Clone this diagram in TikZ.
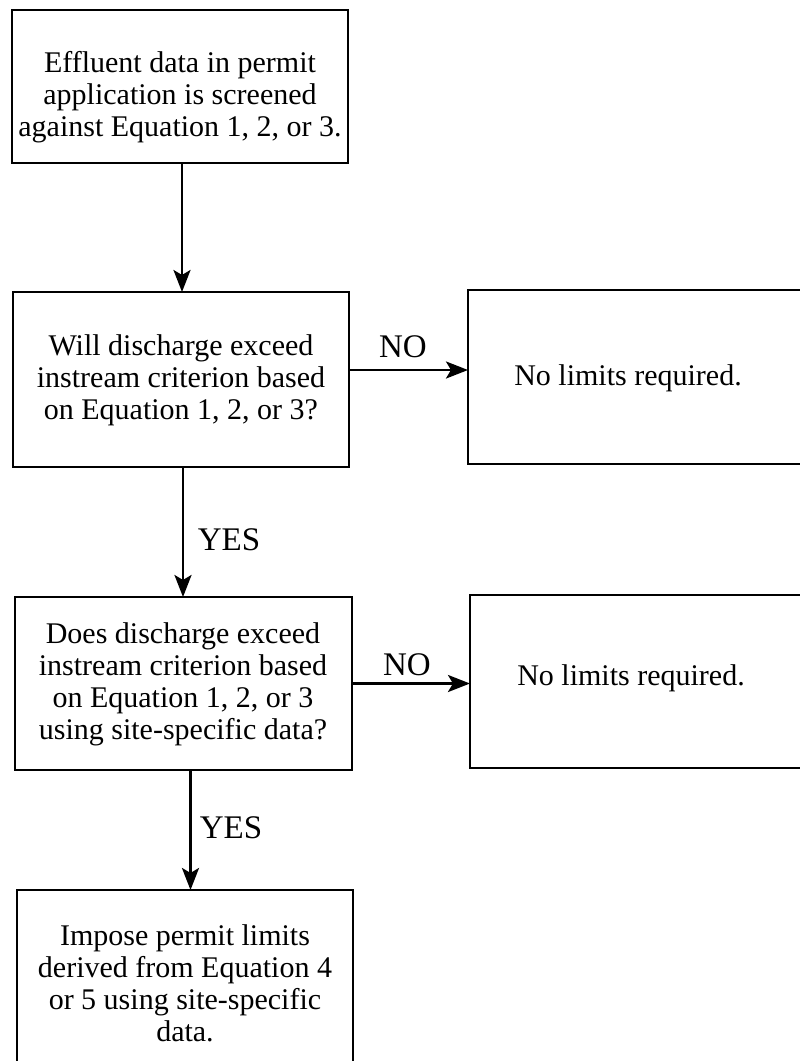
\documentclass[tikz,border=0pt]{standalone}
\usepackage{fontspec}
\setmainfont{Liberation Serif}
\usetikzlibrary{arrows.meta}

\tikzset{
  stepbox/.style={draw, line width=2.8pt, outer sep=0pt, inner sep=0pt, anchor=north west},
  boxtext/.style={align=center, inner sep=0pt, font=\fontsize{30}{32}\selectfont},
  flow/.style={line width=2.8pt, -{Stealth[length=22pt,width=17pt,inset=5pt]}},
  answer/.style={inner sep=0pt, font=\fontsize{33}{36}\selectfont}
}

\begin{document}
\begin{tikzpicture}[x=1pt,y=-1pt]
  \useasboundingbox (0,0) rectangle (800,1061);
  \clip (0,0) rectangle (800,1061);

  % boxes of the main column
  \node[stepbox, minimum width=336pt, minimum height=153pt] (b1) at (12,10) {};
  \node[stepbox, minimum width=336pt, minimum height=175pt] (b2) at (13,292) {};
  \node[stepbox, minimum width=337pt, minimum height=173pt] (b4) at (15,597) {};
  \node[stepbox, minimum width=336pt, minimum height=185pt] (b6) at (17,890) {};

  % outcome boxes on the right
  \node[stepbox, minimum width=345pt, minimum height=174pt] (r1) at (468,290) {};
  \node[stepbox, minimum width=345pt, minimum height=173pt] (r2) at (470,595) {};

  % box texts
  \node[boxtext] (t1) at (180,97) {Effluent data in permit\\application is screened\\against Equation 1, 2, or 3.};
  \node[boxtext] (t2) at (181,380) {Will discharge exceed\\instream criterion based\\on Equation 1, 2, or 3?};
  \node[boxtext] (t3) at (628,378) {No limits required.};
  \node[boxtext] (t4) at (183,684) {Does discharge exceed\\instream criterion based\\on Equation 1, 2, or 3\\using site-specific data?};
  \node[boxtext] (t5) at (631,678) {No limits required.};
  \node[boxtext] (t6) at (185,983) {Impose permit limits\\derived from Equation 4\\or 5 using site-specific\\data.};

  % connectors
  \draw[flow] ([xshift=2pt]b1.south) -- ([xshift=2pt]b1.south |- b2.north);
  \draw[flow] ([xshift=2pt]b2.south) -- ([xshift=2pt]b2.south |- b4.north);
  \draw[flow] ([xshift=7pt]b4.south) -- ([xshift=7pt]b4.south |- b6.north);
  \draw[flow] ([yshift=9.5pt]b2.east) -- ([yshift=9.5pt]b2.east -| r1.west);
  \draw[flow] (b4.east) -- (b4.east -| r2.west);

  % answer labels
  \node[answer] (no1) at (403,347) {NO};
  \node[answer] (no2) at (407,665) {NO};
  \node[answer] (yes1) at (229,540) {YES};
  \node[answer] (yes2) at (231,828) {YES};
\end{tikzpicture}
\end{document}
